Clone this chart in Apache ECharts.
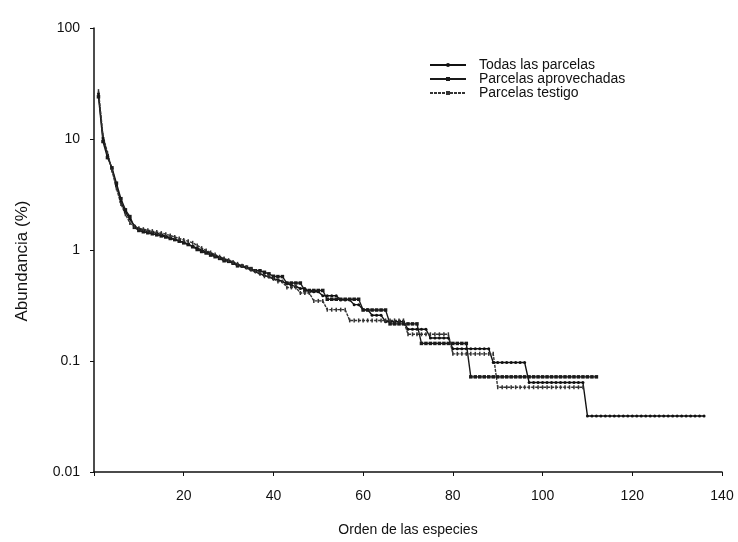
<!DOCTYPE html>
<html>
<head>
<meta charset="utf-8">
<script src="https://cdn.jsdelivr.net/npm/echarts@6/dist/echarts.min.js"></script>
<style>
  html, body { margin: 0; padding: 0; background: #fff; }
  #chart { width: 738px; height: 542px; }
</style>
</head>
<body>
<div id="chart"></div>
<script>
// abundancia (%) por rango de especie
const todas = [
  25.5, 10.2, 7.2, 5.4, 3.8, 2.7, 2.2, 1.9, 1.65, 1.55,
  1.50, 1.47, 1.44, 1.41, 1.38, 1.33, 1.29, 1.25, 1.21, 1.17,
  1.13, 1.08, 1.04, 1.00, 0.96, 0.93, 0.89, 0.86, 0.83, 0.80,
  0.77, 0.74, 0.71, 0.69, 0.66, 0.64, 0.61, 0.59, 0.57, 0.55,
  0.54, 0.52, 0.50, 0.48, 0.47, 0.45, 0.45, 0.42, 0.42, 0.42,
  0.387, 0.387, 0.387, 0.387, 0.355, 0.355, 0.355, 0.322, 0.322, 0.29,
  0.29, 0.258, 0.258, 0.258, 0.226, 0.226, 0.226, 0.226, 0.226, 0.193,
  0.193, 0.193, 0.193, 0.193, 0.161, 0.161, 0.161, 0.161, 0.161, 0.129,
  0.129, 0.129, 0.129, 0.129, 0.129, 0.129, 0.129, 0.129, 0.097, 0.097,
  0.097, 0.097, 0.097, 0.097, 0.097, 0.097, 0.064, 0.064, 0.064, 0.064,
  0.064, 0.064, 0.064, 0.064, 0.064, 0.064, 0.064, 0.064, 0.064, 0.032,
  0.032, 0.032, 0.032, 0.032, 0.032, 0.032, 0.032, 0.032, 0.032, 0.032,
  0.032, 0.032, 0.032, 0.032, 0.032, 0.032, 0.032, 0.032, 0.032, 0.032,
  0.032, 0.032, 0.032, 0.032, 0.032, 0.032
]

const aprovechadas = [
  24, 9.5, 6.8, 5.5, 4.0, 2.9, 2.3, 2.0, 1.6, 1.5,
  1.46, 1.43, 1.40, 1.37, 1.34, 1.31, 1.27, 1.24, 1.20, 1.16,
  1.12, 1.07, 1.01, 0.97, 0.94, 0.90, 0.87, 0.84, 0.80, 0.79,
  0.76, 0.72, 0.72, 0.70, 0.68, 0.65, 0.65, 0.63, 0.61, 0.58,
  0.576, 0.576, 0.504, 0.504, 0.504, 0.504, 0.432, 0.432, 0.432, 0.432,
  0.432, 0.36, 0.36, 0.36, 0.36, 0.36, 0.36, 0.36, 0.36, 0.288,
  0.288, 0.288, 0.288, 0.288, 0.288, 0.216, 0.216, 0.216, 0.216, 0.216,
  0.216, 0.216, 0.144, 0.144, 0.144, 0.144, 0.144, 0.144, 0.144, 0.144,
  0.144, 0.144, 0.144, 0.072, 0.072, 0.072, 0.072, 0.072, 0.072, 0.072,
  0.072, 0.072, 0.072, 0.072, 0.072, 0.072, 0.072, 0.072, 0.072, 0.072,
  0.072, 0.072, 0.072, 0.072, 0.072, 0.072, 0.072, 0.072, 0.072, 0.072,
  0.072, 0.072
]

const testigo = [
  27, 10.8, 7.5, 5.2, 3.6, 2.6, 2.1, 1.75, 1.62, 1.57,
  1.54, 1.51, 1.48, 1.45, 1.42, 1.39, 1.35, 1.31, 1.27, 1.23,
  1.20, 1.16, 1.10, 1.04, 0.99, 0.95, 0.91, 0.87, 0.84, 0.81,
  0.78, 0.75, 0.72, 0.70, 0.67, 0.64, 0.61, 0.58, 0.58, 0.55,
  0.52, 0.52, 0.46, 0.46, 0.46, 0.41, 0.41, 0.41, 0.348, 0.348,
  0.348, 0.29, 0.29, 0.29, 0.29, 0.29, 0.232, 0.232, 0.232, 0.232,
  0.232, 0.232, 0.232, 0.232, 0.232, 0.232, 0.232, 0.232, 0.232, 0.174,
  0.174, 0.174, 0.174, 0.174, 0.174, 0.174, 0.174, 0.174, 0.174, 0.116,
  0.116, 0.116, 0.116, 0.116, 0.116, 0.116, 0.116, 0.116, 0.116, 0.058,
  0.058, 0.058, 0.058, 0.058, 0.058, 0.058, 0.058, 0.058, 0.058, 0.058,
  0.058, 0.058, 0.058, 0.058, 0.058, 0.058, 0.058, 0.058, 0.058
]

const yTickLabels = { 0.01: '0.01', 0.1: '0.1', 1: '1', 10: '10', 100: '100' }
const xTicks = [20, 40, 60, 80, 100, 120, 140]

const FONT = 'Liberation Sans'

// [rango, valor]
const toPoints = (arr) => arr.map((v, i) => [i + 1, v])

const chart = echarts.init(document.getElementById('chart'))

chart.setOption({
  animation: false,
  backgroundColor: '#fff',
  grid: { left: 94, right: 16, top: 28, bottom: 68 },
  legend: {
    orient: 'vertical',
    left: 424,
    top: 53,
    itemWidth: 36,
    itemHeight: 5,
    itemGap: 0,
    textStyle: { fontFamily: FONT, fontSize: 14, color: '#111', padding: [0, 0, 0, 8] },
    data: ['Todas las parcelas', 'Parcelas aprovechadas', 'Parcelas testigo']
  },
  // título del eje Y, algo más grande y desplazado hacia abajo como en el original
  graphic: [
    {
      type: 'text',
      x: 22,
      y: 261,
      rotation: Math.PI / 2,
      style: {
        text: 'Abundancia (%)',
        fontFamily: FONT,
        fontSize: 17,
        fill: '#111',
        align: 'center',
        verticalAlign: 'middle'
      }
    }
  ],
  xAxis: {
    type: 'value',
    min: 0,
    max: 140,
    interval: 20,
    name: 'Orden de las especies',
    nameLocation: 'middle',
    nameGap: 51,
    nameTextStyle: { fontFamily: FONT, fontSize: 14, color: '#111' },
    axisLine: { lineStyle: { color: '#111', width: 1.5 } },
    axisTick: { inside: false, length: 4, lineStyle: { color: '#111' } },
    axisLabel: {
      fontFamily: FONT,
      fontSize: 14,
      color: '#111',
      margin: 17,
      formatter: (v) => (xTicks.includes(v) ? String(v) : '')
    },
    splitLine: { show: false }
  },
  yAxis: {
    type: 'log',
    logBase: 10,
    min: 0.01,
    max: 100,
    axisLine: { show: true, lineStyle: { color: '#111', width: 1.5 } },
    axisTick: { show: true, inside: false, length: 4, lineStyle: { color: '#111' } },
    axisLabel: {
      fontFamily: FONT,
      fontSize: 14,
      color: '#111',
      margin: 14,
      formatter: (v) => {
        const k = Object.keys(yTickLabels).find((t) => Math.abs(Number(t) - v) < v * 1e-6)
        return k ? yTickLabels[k] : ''
      }
    },
    splitLine: { show: false }
  },
  series: [
    {
      name: 'Todas las parcelas',
      type: 'line',
      data: toPoints(todas),
      symbol: 'circle',
      symbolSize: 3,
      lineStyle: { color: '#111', width: 1.4 },
      itemStyle: { color: '#111' }
    },
    {
      name: 'Parcelas aprovechadas',
      type: 'line',
      data: toPoints(aprovechadas),
      symbol: 'rect',
      symbolSize: 3.5,
      lineStyle: { color: '#1a1a1a', width: 1.4 },
      itemStyle: { color: '#1a1a1a' }
    },
    {
      name: 'Parcelas testigo',
      type: 'line',
      data: toPoints(testigo),
      symbol: 'rect',
      symbolSize: [1.5, 4],
      lineStyle: { color: '#333', width: 1.4, type: [3, 1] },
      itemStyle: { color: '#333' }
    }
  ]
})
</script>
</body>
</html>
